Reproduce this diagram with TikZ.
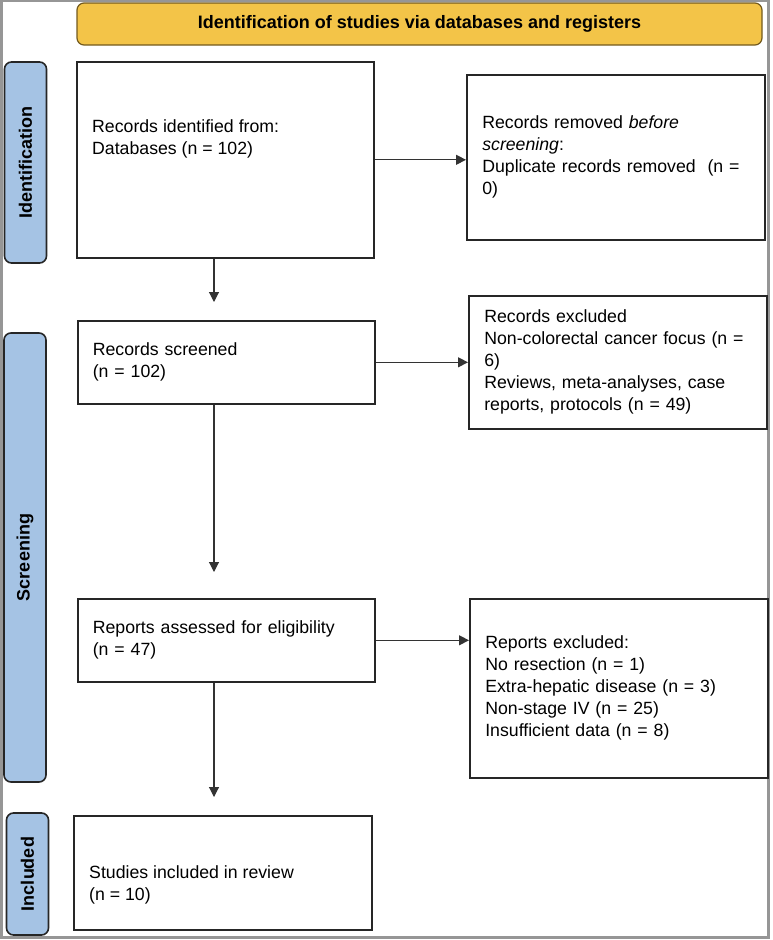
\documentclass[tikz,border=0pt]{standalone}
\usepackage{fontspec}
\setmainfont{Liberation Sans}
\usetikzlibrary{positioning,arrows.meta,calc}

\definecolor{bannergold}{RGB}{243,196,72}
\definecolor{bannerline}{RGB}{115,90,30}
\definecolor{sideblue}{RGB}{165,195,228}
\definecolor{framegray}{RGB}{150,150,150}

\begin{document}
\begin{tikzpicture}[x=1pt, y=-1pt,
    box/.style={draw=black!85, line width=1.6pt, anchor=north west, minimum width=297pt, text width=267pt, inner xsep=15pt, inner ysep=0pt, align=left, font=\fontsize{17.7}{22}\selectfont},
    boxtext/.style={anchor=west, inner sep=0pt, align=left, font=\fontsize{17.7}{22}\selectfont},
    side/.style={draw=black!85, fill=sideblue, line width=1.6pt, rounded corners=7pt, rotate=90, minimum height=42pt, inner sep=0pt, font=\fontsize{18}{20}\selectfont\bfseries},
    banner/.style={draw=bannerline, fill=bannergold, line width=1.2pt, rounded corners=7pt, minimum width=685pt, minimum height=42pt, inner sep=0pt, font=\fontsize{18}{20}\selectfont\bfseries},
    arr/.style={draw=black!80, line width=1.1pt, -{Triangle[length=10pt,width=10pt]}}]
    \useasboundingbox (0,0) rectangle (772,940);
    \draw[framegray, line width=2.5pt] (1.5,1) rectangle (768.5,937.5);

    %coordinates
    \coordinate (ID0) at (76,61);
    \coordinate (RM0) at (466,74);
    \coordinate (SC0) at (77,320);
    \coordinate (EX0) at (468,295);
    \coordinate (AS0) at (77,598);
    \coordinate (RE0) at (469,598);
    \coordinate (IN0) at (73,815);
    \coordinate (col) at (214,0);

    %nodes
    \node[banner] (head) at (419.5,24) {Identification of studies via databases and registers};

    \node[side, minimum width=201pt] (identside) at (25.5,162.5) {Identification};
    \node[side, minimum width=449pt] (screenside) at (25,557.5) {Screening};
    \node[side, minimum width=122pt] (inclside) at (27.5,874) {Included};

    \node[box, minimum height=196pt] (ident) at (ID0) {};
    \node[boxtext] (identtxt) at ($(ident.west)+(16,-21)$) {Records identified from:\\Databases (n = 102)};
    \node[box, minimum width=298pt, minimum height=165pt] (removed) at (RM0) {Records removed \emph{before}\\\emph{screening}:\\Duplicate records removed\ \ (n =\\0)};
    \node[box, minimum height=83pt] (screened) at (SC0) {Records screened\\(n = 102)};
    \node[box, minimum width=298pt, minimum height=133pt] (excl) at (EX0) {Records excluded\\Non-colorectal cancer focus (n =\\6)\\Reviews, meta-analyses, case\\reports, protocols (n = 49)};
    \node[box, minimum height=83pt] (assessed) at (AS0) {Reports assessed for eligibility\\(n = 47)};
    \node[box, minimum width=298pt, minimum height=179pt] (reports) at (RE0) {Reports excluded:\\No resection (n = 1)\\Extra-hepatic disease (n = 3)\\Non-stage IV (n = 25)\\Insufficient data (n = 8)};
    \node[box, minimum width=298pt, minimum height=114pt] (included) at (IN0) {};
    \node[boxtext] (incltxt) at ($(included.west)+(16,12)$) {Studies included in review\\(n = 10)};

    %edges
    \draw[arr] (ident.east) -- (ident.east -| removed.west);
    \draw[arr] (screened.east) -- (screened.east -| excl.west);
    \draw[arr] (assessed.east) -- (assessed.east -| reports.west);

    \draw[arr] (ident.south -| col) -- ($(screened.north -| col)+(0,-18)$);
    \draw[arr] (screened.south -| col) -- ($(assessed.north -| col)+(0,-26)$);
    \draw[arr] (assessed.south -| col) -- ($(included.north -| col)+(0,-18)$);
\end{tikzpicture}
\end{document}
